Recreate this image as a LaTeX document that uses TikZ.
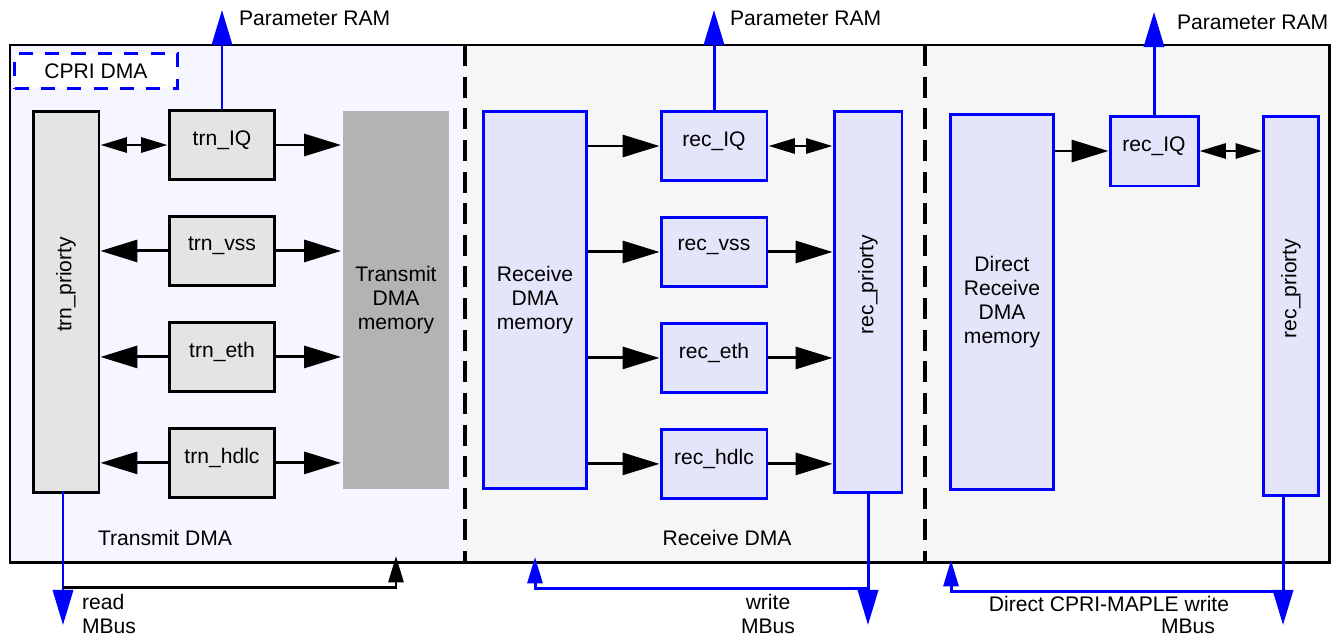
\documentclass[tikz,border=0pt]{standalone}
\usepackage{fontspec}
\setmainfont{Liberation Sans}
\usepackage{xcolor}
\definecolor{busblue}{RGB}{0,0,255}
\definecolor{trngray}{RGB}{228,228,228}
\definecolor{recfill}{RGB}{228,228,250}
\definecolor{memgray}{RGB}{179,179,179}
\definecolor{txback}{RGB}{245,246,255}
\definecolor{rxback}{RGB}{246,246,246}
\usepackage{tikz}
\usetikzlibrary{arrows.meta,positioning,calc}

\begin{document}
\begin{tikzpicture}[
  x=0.02cm, y=-0.02cm,
  every node/.style={font=\fontsize{12}{13.5}\selectfont},
  trnbox/.style={rectangle,draw=black,fill=trngray,line width=1.7pt,
                 minimum width=2.12cm, minimum height=1.38cm, inner sep=2pt,
                 text depth=8pt},
  recbox/.style={rectangle,draw=busblue,fill=recfill,line width=1.7pt,
                 minimum width=2.12cm, minimum height=1.38cm, inner sep=2pt,
                 text depth=8pt},
  prio/.style={rectangle,line width=1.7pt,
               minimum width=1.32cm, minimum height=7.64cm},
  mem/.style={rectangle,line width=1.7pt,align=center,
              minimum width=2.06cm, minimum height=7.56cm},
  lbl/.style={inner sep=1pt, align=left},
  fwd/.style={line width=1.7pt,-{Triangle[length=21pt,width=12.5pt]}},
  dbl/.style={line width=1.7pt,
              {Triangle[length=15pt,width=8.5pt]}-{Triangle[length=15pt,width=8.5pt]}},
  bus/.style={draw=busblue,line width=1.7pt,-{Triangle[length=20pt,width=11.5pt]}},
  busback/.style={line width=1.7pt,-{Triangle[length=15pt,width=8.5pt]}},
  divider/.style={line width=1.8pt, dash pattern=on 12pt off 6pt},
  node distance=0.68cm,
]
  \useasboundingbox (0,0) rectangle (1335,636);

  %% Sections
  \fill[txback] (10,45) rectangle (465,562);
  \fill[rxback] (465,45) rectangle (1329,562);
  \draw[line width=1.7pt] (10,45) rectangle (1329,562);
  \draw[divider] (465,45) -- (465,562);
  \draw[divider] (925,45) -- (925,562);

  \node[rectangle,draw=busblue,fill=white,line width=1.7pt,
        dash pattern=on 8pt off 7pt,
        minimum width=3.26cm, minimum height=0.7cm] (CPRI) at (96,71) {CPRI DMA};

  %% Transmit DMA
  \node[prio,draw=black,fill=trngray] (TP) at (66,302)
    {\rotatebox{90}{\hspace*{20pt}trn\_priorty}};
  \node[trnbox] (TIQ) at (222,145) {trn\_IQ};
  \node[trnbox,below=of TIQ] (TVSS) {trn\_vss};
  \node[trnbox,below=of TVSS] (TETH) {trn\_eth};
  \node[trnbox,below=of TETH] (THDLC) {trn\_hdlc};
  \node[mem,fill=memgray,minimum width=2.14cm] (TMEM) at (396,300)
    {Transmit\\DMA\\memory};
  \node[lbl] (TXL) at (165,538) {Transmit DMA};

  \draw[dbl] (TIQ.west -| TP.east) -- (TIQ.west);
  \draw[fwd] (TIQ.east) -- (TIQ.east -| TMEM.west);
  \foreach \n in {TVSS,TETH,THDLC}{
    \draw[fwd] (\n.west) -- (\n.west -| TP.east);
    \draw[fwd] (\n.east) -- (\n.east -| TMEM.west);
  }

  %% Receive DMA
  \node[mem,draw=busblue,fill=recfill] (RMEM) at (535,300)
    {Receive\\DMA\\memory};
  \node[recbox] (RIQ) at (714,146) {rec\_IQ};
  \node[recbox,below=of RIQ] (RVSS) {rec\_vss};
  \node[recbox,below=of RVSS] (RETH) {rec\_eth};
  \node[recbox,below=of RETH] (RHDLC) {rec\_hdlc};
  \node[prio,draw=busblue,fill=recfill,minimum width=1.36cm] (RP) at (868,302)
    {\rotatebox{90}{\hspace*{20pt}rec\_priorty}};
  \node[lbl] (RXL) at (727,538) {Receive DMA};

  \foreach \n in {RIQ,RVSS,RETH,RHDLC}
    \draw[fwd] (\n.west -| RMEM.east) -- (\n.west);
  \draw[dbl] (RIQ.east) -- (RIQ.east -| RP.west);
  \foreach \n in {RVSS,RETH,RHDLC}
    \draw[fwd] (\n.east) -- (\n.east -| RP.west);

  %% Direct receive
  \node[mem,draw=busblue,fill=recfill,minimum height=7.5cm] (DMEM) at (1002,302)
    {Direct\\Receive\\DMA\\memory};
  \node[recbox,minimum width=1.76cm,minimum height=1.4cm] (DIQ) at (1154,151)
    {rec\_IQ};
  \node[prio,draw=busblue,fill=recfill,minimum width=1.1cm,minimum height=7.6cm]
    (DP) at (1291,306) {\rotatebox{90}{\hspace*{20pt}rec\_priorty}};

  \draw[fwd] (DIQ.west -| DMEM.east) -- (DIQ.west);
  \draw[dbl] (DIQ.east) -- (DIQ.east -| DP.west);

  %% Parameter RAM
  \coordinate (PT1) at (TIQ.north |- 0,10);
  \coordinate (PT2) at (RIQ.north |- 0,10);
  \coordinate (PT3) at (DIQ.north |- 0,12);
  \draw[bus] (TIQ.north) -- (PT1);
  \draw[bus] (RIQ.north) -- (PT2);
  \draw[bus] (DIQ.north) -- (PT3);
  \node[lbl,anchor=west] (PR1) at (237,18) {Parameter RAM};
  \node[lbl,anchor=west] (PR2) at (728,18) {Parameter RAM};
  \node[lbl,anchor=west] (PR3) at (1175,22) {Parameter RAM};

  %% MBus
  \coordinate (RDend) at ([xshift=-0.06cm]TP.south |- 0,625);
  \coordinate (RDjoin) at ([xshift=-0.06cm]TP.south |- 0,587);
  \coordinate (RDup) at (396,556);
  \draw[bus] ([xshift=-0.06cm,yshift=0.06cm]TP.south) -- (RDend);
  \draw[busback] (RDjoin) -| (RDup);
  \node[lbl,anchor=north west] (RDL) at (80,592) {read\\MBus};

  \coordinate (WRend) at (RP.south |- 0,625);
  \coordinate (WRjoin) at (RP.south |- 0,588);
  \coordinate (WRup) at (535,557);
  \draw[bus] ([yshift=0.06cm]RP.south) -- (WRend);
  \draw[busback,color=busblue] (WRjoin) -| (WRup);
  \node[lbl,align=center,anchor=north] (WRL) at (768,592) {write\\MBus};

  \coordinate (DRend) at ([xshift=-0.16cm]DP.south |- 0,625);
  \coordinate (DRjoin) at ([xshift=-0.16cm]DP.south |- 0,591);
  \coordinate (DRup) at (951,560);
  \draw[bus] ([xshift=-0.16cm,yshift=0.06cm]DP.south) -- (DRend);
  \draw[busback,color=busblue] (DRjoin) -| (DRup);
  \node[lbl] (DRL) at (1109,604) {Direct CPRI-MAPLE write};
  \node[lbl] (DRL2) at (1188,626) {MBus};
\end{tikzpicture}
\end{document}
